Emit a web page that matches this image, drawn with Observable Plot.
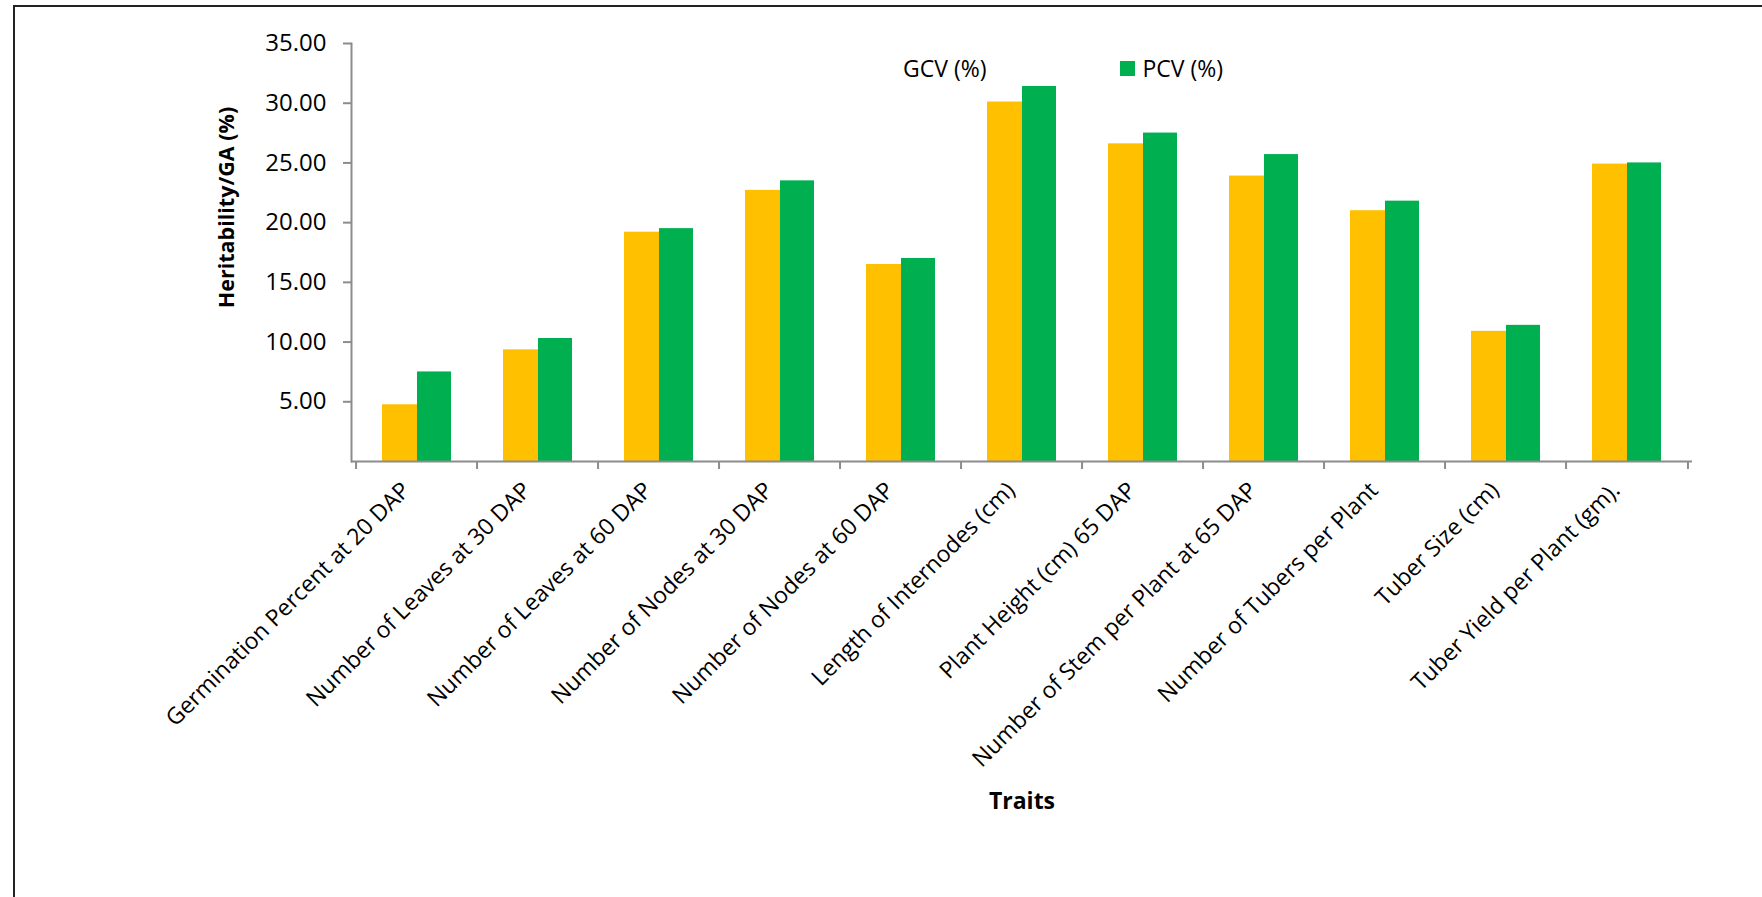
<!DOCTYPE html>
<html>
<head>
<meta charset="utf-8">
<script src="https://cdn.jsdelivr.net/npm/d3@7"></script>
<script src="https://cdn.jsdelivr.net/npm/@observablehq/plot@0.6"></script>
<style>
  html, body { margin: 0; padding: 0; background: #fff; }
  #wrap { position: relative; width: 1762px; height: 897px; overflow: hidden; font-family: "Open Sans", sans-serif; }
  #border { position: absolute; left: 13px; top: 5px; right: -10px; bottom: -10px; border-top: 2px solid #222; border-left: 2px solid #222; pointer-events: none; }
  #chart { position: absolute; left: 0; top: 0; }
  #legend { position: absolute; top: 52px; left: 903px; display: flex; align-items: center; font-size: 23px; color: #000; }
  #legend .item { display: flex; align-items: center; }
  #legend .sw { width: 15px; height: 15px; margin-right: 7px; }
</style>
</head>
<body>
<div id="wrap">
  <div id="chart"></div>
  <div id="border"></div>
  <div id="legend"></div>
</div>
<script>
const traits = [
  "Germination Percent at 20 DAP",
  "Number of Leaves at 30 DAP",
  "Number of Leaves at 60 DAP",
  "Number of Nodes at 30 DAP",
  "Number of Nodes at 60 DAP",
  "Length of Internodes (cm)",
  "Plant Height (cm) 65 DAP",
  "Number of Stem per Plant at 65 DAP",
  "Number of Tubers per Plant",
  "Tuber Size (cm)",
  "Tuber Yield per Plant (gm)."
];
const gcv = [4.75, 9.35, 19.2, 22.7, 16.5, 30.1, 26.6, 23.9, 21.0, 10.9, 24.9];
const pcv = [7.5, 10.3, 19.5, 23.5, 17.0, 31.4, 27.5, 25.7, 21.8, 11.4, 25.0];
const seriesNames = ["GCV (%)", "PCV (%)"];
const seriesColors = ["#FFC000", "#00B050"];
const yTicks = [5, 10, 15, 20, 25, 30, 35];
const yTitle = "Heritability/GA (%)";
const xTitle = "Traits";

const gcvRows = traits.map((t, i) => ({trait: t, series: seriesNames[0], value: gcv[i]}));
const pcvRows = traits.map((t, i) => ({trait: t, series: seriesNames[1], value: pcv[i]}));

const W = 1762, H = 897;
const mL = 351, mR = 70, mT = 43, mB = 436;
const step = (W - mL - mR) / traits.length;
const half = step * (1 - 0.426) / 2;
const axisGray = "#8c8c8c";

const chart = Plot.plot({
  width: W,
  height: H,
  marginLeft: mL,
  marginRight: mR,
  marginTop: mT,
  marginBottom: mB,
  style: {fontFamily: "'Open Sans', sans-serif", fontSize: "23px", color: "#000", background: "transparent"},
  x: {type: "band", domain: traits, paddingInner: 0.426, paddingOuter: 0.213, label: null},
  y: {domain: [0, 35], label: null},
  marks: [
    Plot.barY(gcvRows, {x: "trait", y: "value", fill: seriesColors[0], insetLeft: 0, insetRight: half - 1}),
    Plot.barY(pcvRows, {x: "trait", y: "value", fill: seriesColors[1], insetLeft: half, insetRight: 0}),
    Plot.frame({anchor: "left", stroke: axisGray, strokeWidth: 2}),
    Plot.ruleY([0], {stroke: axisGray, strokeWidth: 2}),
    Plot.axisY({ticks: yTicks, tickFormat: d3.format(".2f"), tickSize: 8, tickPadding: 17, stroke: axisGray, strokeWidth: 2, fill: "#000", fontSize: 24, label: null}),
    Plot.axisX({tickSize: 8, tickFormat: () => "", dx: -step / 2, stroke: axisGray, strokeWidth: 2, label: null}),
    Plot.axisX({ticks: [traits[traits.length - 1]], tickSize: 8, tickFormat: () => "", dx: step / 2, stroke: axisGray, strokeWidth: 2, label: null}),
    Plot.axisX({tickSize: 0, tickPadding: 25, tickRotate: -45, dx: -11, fill: "#000", fontSize: 23, label: null}),
    Plot.text([yTitle], {frameAnchor: "left", textAnchor: "middle", rotate: -90, dx: -124, dy: -45, fontWeight: "bold", fontSize: 21.5, fill: "#000"}),
    Plot.text([xTitle], {frameAnchor: "bottom", dy: 347, fontWeight: "bold", fontSize: 23, fill: "#000"})
  ]
});
document.getElementById("chart").appendChild(chart);

const legend = document.getElementById("legend");
seriesNames.forEach((name, i) => {
  const item = document.createElement("div");
  item.className = "item";
  if (i > 0) item.style.marginLeft = "134px";
  if (i > 0) {
    const sw = document.createElement("div");
    sw.className = "sw";
    sw.style.background = seriesColors[i];
    item.appendChild(sw);
  }
  const label = document.createElement("span");
  label.textContent = name;
  item.appendChild(label);
  legend.appendChild(item);
});
</script>
</body>
</html>
